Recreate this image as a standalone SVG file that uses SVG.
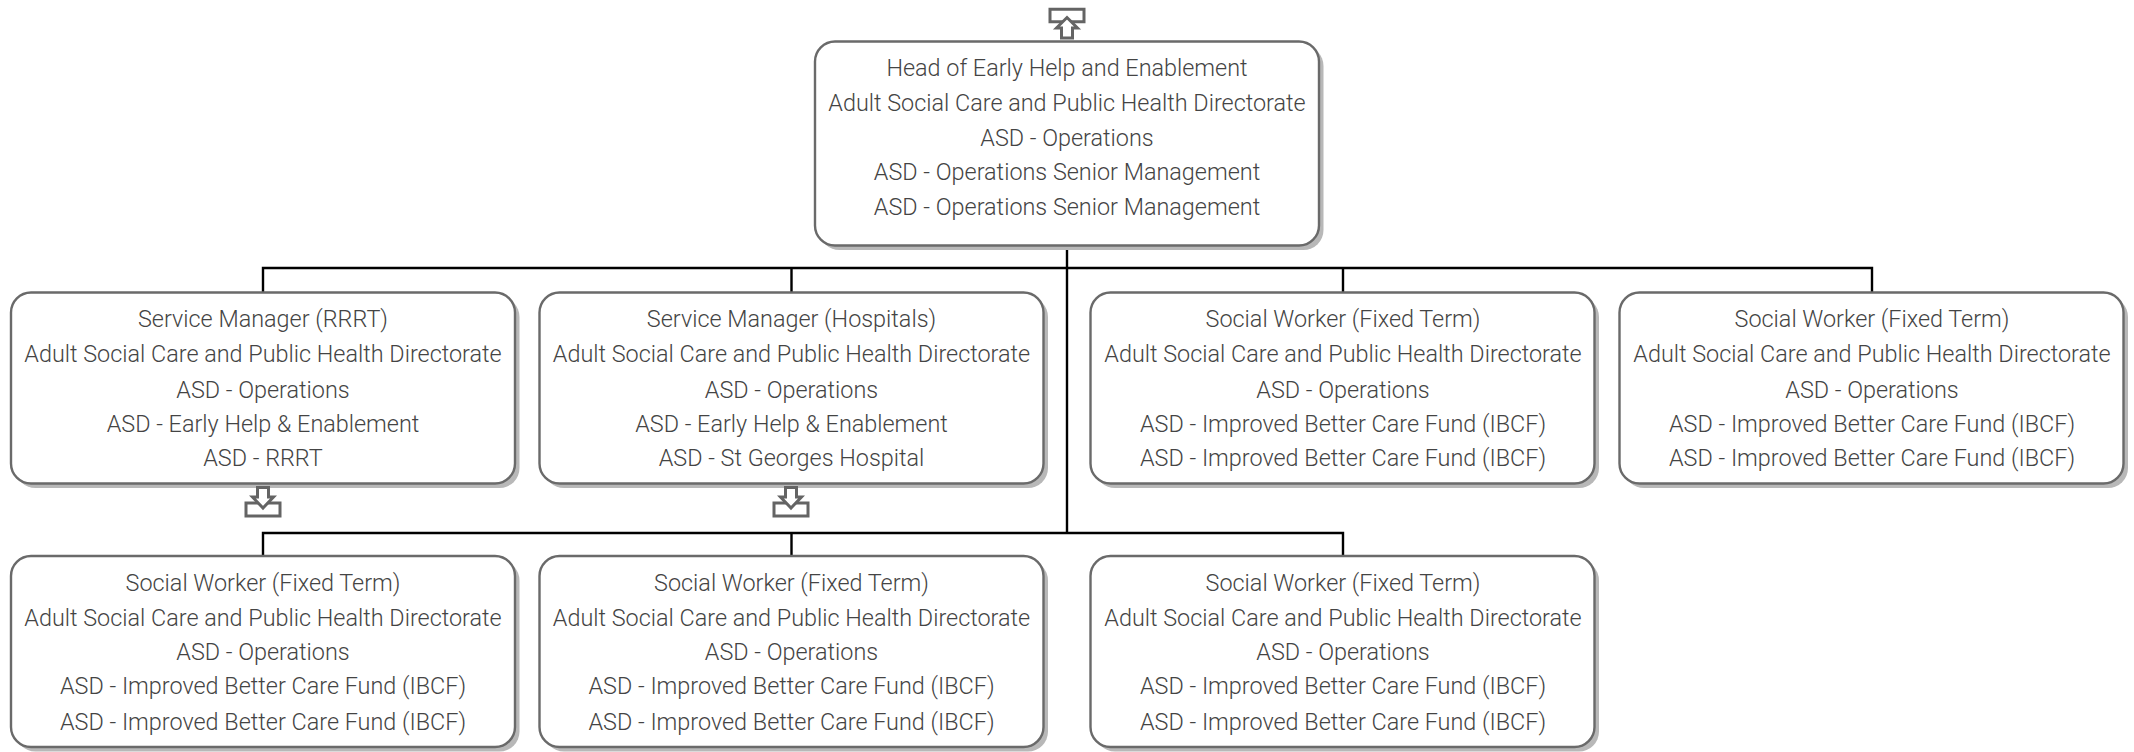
<svg xmlns="http://www.w3.org/2000/svg" width="2134" height="752" viewBox="0 0 2134 752">
<style>
.s{fill:#b8b8b8}
.b{fill:#fff;stroke:#6a6a6a;stroke-width:2.4}
.c{fill:none;stroke:#000;stroke-width:2.4}
.i{fill:#fff;stroke:#646464;stroke-width:3}
text{font-family:"Roboto","Liberation Sans",sans-serif;font-weight:300;font-size:23.400px;fill:#444;text-anchor:middle}
</style>
<defs>
<g id="box"><rect class="s" x="4.500" y="4.500" width="504" height="191" rx="20"/><rect class="b" width="504" height="191" rx="20"/></g>
<g id="dn"><rect class="i" x="-17" y="17" width="34" height="13"/><path class="i" d="M-5.500 1.500H5.500V11H10.500L0 22L-10.500 11H-5.500Z"/></g>
</defs>
<g id="connectors">
<path class="c" d="M1067 245V533M263 292V268H1872V292M791.500 268V292M1343 268V292M263 556V533H1343V556M791.500 533V556"/>
</g>
<g id="node-head">
<rect class="s" x="819.500" y="46" width="504" height="204" rx="20"/><rect class="b" x="815" y="41.500" width="504" height="204" rx="20"/>
<text x="1067" y="76">Head of Early Help and Enablement</text>
<text x="1067" y="111">Adult Social Care and Public Health Directorate</text>
<text x="1067" y="146">ASD - Operations</text>
<text x="1067" y="180">ASD - Operations Senior Management</text>
<text x="1067" y="215">ASD - Operations Senior Management</text>
<path class="i" d="M1050 9.200H1084V21.800H1050Z"/><path class="i" d="M1061.500 38H1072.500V28H1077.500L1067 17.500L1056.500 28H1061.500Z"/>
</g>
<g id="node-sm-rrrt">
<use href="#box" x="11" y="292.500"/>
<text x="263" y="327">Service Manager (RRRT)</text>
<text x="263" y="362">Adult Social Care and Public Health Directorate</text>
<text x="263" y="398">ASD - Operations</text>
<text x="263" y="432">ASD - Early Help &amp; Enablement</text>
<text x="263" y="466">ASD - RRRT</text>
<use href="#dn" x="263" y="486"/>
</g>
<g id="node-sm-hospitals">
<use href="#box" x="539.500" y="292.500"/>
<text x="791.500" y="327">Service Manager (Hospitals)</text>
<text x="791.500" y="362">Adult Social Care and Public Health Directorate</text>
<text x="791.500" y="398">ASD - Operations</text>
<text x="791.500" y="432">ASD - Early Help &amp; Enablement</text>
<text x="791.500" y="466">ASD - St Georges Hospital</text>
<use href="#dn" x="791" y="486"/>
</g>
<g id="node-sw1">
<use href="#box" x="1090.500" y="292.500"/>
<text x="1343" y="327">Social Worker (Fixed Term)</text>
<text x="1343" y="362">Adult Social Care and Public Health Directorate</text>
<text x="1343" y="398">ASD - Operations</text>
<text x="1343" y="432">ASD - Improved Better Care Fund (IBCF)</text>
<text x="1343" y="466">ASD - Improved Better Care Fund (IBCF)</text>
</g>
<g id="node-sw2">
<use href="#box" x="1619.500" y="292.500"/>
<text x="1872" y="327">Social Worker (Fixed Term)</text>
<text x="1872" y="362">Adult Social Care and Public Health Directorate</text>
<text x="1872" y="398">ASD - Operations</text>
<text x="1872" y="432">ASD - Improved Better Care Fund (IBCF)</text>
<text x="1872" y="466">ASD - Improved Better Care Fund (IBCF)</text>
</g>
<g id="node-sw3">
<use href="#box" x="11" y="556"/>
<text x="263" y="591">Social Worker (Fixed Term)</text>
<text x="263" y="626">Adult Social Care and Public Health Directorate</text>
<text x="263" y="660">ASD - Operations</text>
<text x="263" y="694">ASD - Improved Better Care Fund (IBCF)</text>
<text x="263" y="730">ASD - Improved Better Care Fund (IBCF)</text>
</g>
<g id="node-sw4">
<use href="#box" x="539.500" y="556"/>
<text x="791.500" y="591">Social Worker (Fixed Term)</text>
<text x="791.500" y="626">Adult Social Care and Public Health Directorate</text>
<text x="791.500" y="660">ASD - Operations</text>
<text x="791.500" y="694">ASD - Improved Better Care Fund (IBCF)</text>
<text x="791.500" y="730">ASD - Improved Better Care Fund (IBCF)</text>
</g>
<g id="node-sw5">
<use href="#box" x="1090.500" y="556"/>
<text x="1343" y="591">Social Worker (Fixed Term)</text>
<text x="1343" y="626">Adult Social Care and Public Health Directorate</text>
<text x="1343" y="660">ASD - Operations</text>
<text x="1343" y="694">ASD - Improved Better Care Fund (IBCF)</text>
<text x="1343" y="730">ASD - Improved Better Care Fund (IBCF)</text>
</g>
</svg>
